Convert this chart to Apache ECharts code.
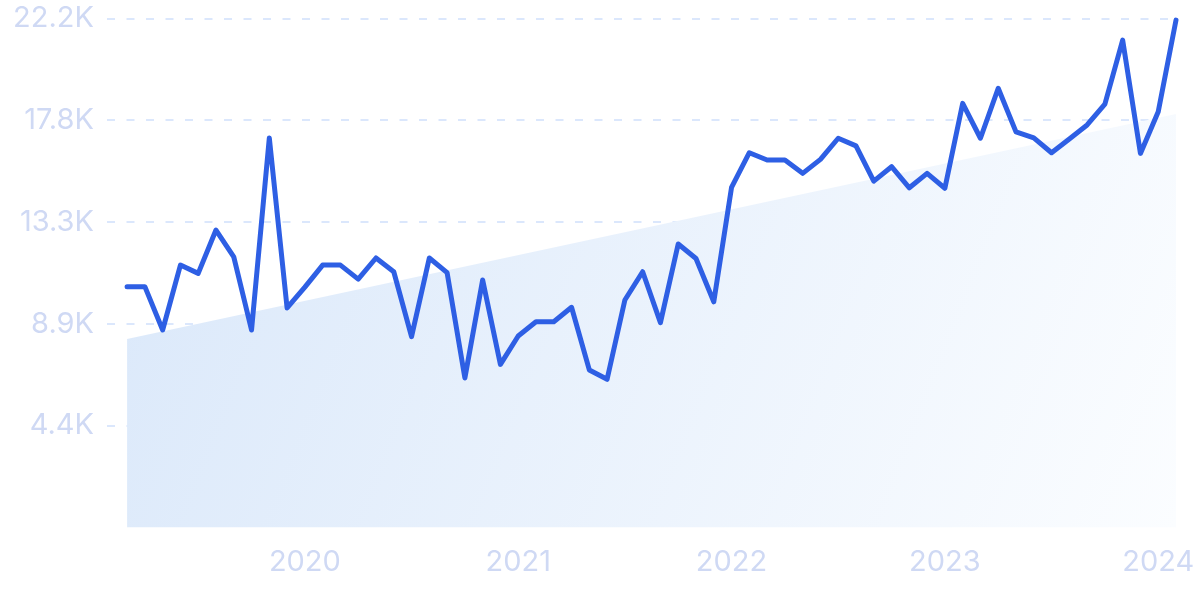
<!DOCTYPE html>
<html>
<head>
<meta charset="utf-8">
<script src="https://cdn.jsdelivr.net/npm/echarts@6/dist/echarts.min.js"></script>
<style>
  html, body { margin: 0; padding: 0; background: #ffffff; }
  #chart { width: 1200px; height: 599px; }
</style>
</head>
<body>
<div id="chart"></div>
<script>
// Monthly categories: Mar 2019 .. Feb 2024
const months = [
  '2019-03','2019-04','2019-05','2019-06','2019-07','2019-08','2019-09','2019-10','2019-11','2019-12',
  '2020-01','2020-02','2020-03','2020-04','2020-05','2020-06','2020-07','2020-08','2020-09','2020-10','2020-11','2020-12',
  '2021-01','2021-02','2021-03','2021-04','2021-05','2021-06','2021-07','2021-08','2021-09','2021-10','2021-11','2021-12',
  '2022-01','2022-02','2022-03','2022-04','2022-05','2022-06','2022-07','2022-08','2022-09','2022-10','2022-11','2022-12',
  '2023-01','2023-02','2023-03','2023-04','2023-05','2023-06','2023-07','2023-08','2023-09','2023-10','2023-11','2023-12',
  '2024-01','2024-02'
];
const values = [
  10500, 10500, 8610, 11440, 11080, 12970, 11800, 8610, 16980, 9570,
  10480, 11440, 11440, 10830, 11750, 11150, 8320, 11750, 11110, 6520, 10790, 7110,
  8350, 8970, 8970, 9600, 6870, 6460, 9920, 11150, 8930, 12360, 11730, 9840,
  14830, 16340, 16020, 16020, 15440, 16050, 16970, 16640, 15100, 15730, 14810, 15440,
  14790, 18490, 16970, 19150, 17250, 16990, 16340, 16940, 17550, 18460, 21250, 16310,
  18130, 22120
];
// Trend (area) endpoints: first month and last month
const trendStart = 8220;
const trendEnd = 18030;
// X tick labels (January of each year)
const yearTicks = ['2020', '2021', '2022', '2023', '2024'];
// Y tick values
const yMax = 22200;
const yInterval = 4440;

const yearIndex = yearTicks.map(y => months.indexOf(y + '-01'));
const lineData = values.map((v, i) => [i, v]);
const trendData = [[0, trendStart], [months.length - 1, trendEnd]];

const labelColor = '#cfd9f4';
const fontFamily = 'Inter, Roboto, sans-serif';

const chart = echarts.init(document.getElementById('chart'), null, { renderer: 'canvas' });
chart.setOption({
  animation: false,
  backgroundColor: '#ffffff',
  grid: { left: 107, right: 24, top: 18.3, bottom: 71.5, containLabel: false },
  xAxis: {
    type: 'value',
    min: -1.13,
    max: months.length - 1,
    axisLine: { show: false },
    axisTick: { show: false },
    splitLine: { show: false },
    axisLabel: {
      customValues: yearIndex,
      formatter: function (v) {
        const k = yearIndex.indexOf(Math.round(v));
        return k >= 0 ? yearTicks[k] : '';
      },
      color: labelColor,
      fontSize: 29,
      fontFamily: fontFamily,
      margin: 20
    }
  },
  yAxis: {
    type: 'value',
    min: 0,
    max: yMax,
    interval: yInterval,
    axisLine: { show: false },
    axisTick: { show: false },
    axisLabel: {
      color: labelColor,
      fontSize: 29,
      fontFamily: fontFamily,
      margin: 13,
      formatter: function (v) {
        if (v === 0) return '';
        return (v / 1000).toFixed(1) + 'K';
      }
    },
    splitLine: {
      show: true,
      showMinLine: false,
      lineStyle: { color: '#cfe0fb', width: 1.5, type: [8, 11.5] }
    }
  },
  series: [
    {
      type: 'line',
      data: trendData,
      symbol: 'none',
      silent: true,
      lineStyle: { width: 0, opacity: 0 },
      areaStyle: {
        opacity: 1,
        color: new echarts.graphic.LinearGradient(0, 0, 1, 1, [
          { offset: 0, color: '#dae8fa' },
          { offset: 1, color: '#fbfdff' }
        ])
      },
      z: 1
    },
    {
      type: 'line',
      data: lineData,
      symbol: 'none',
      lineStyle: { color: '#2e5fe4', width: 5, join: 'round', cap: 'round' },
      z: 3
    }
  ]
});
</script>
</body>
</html>
